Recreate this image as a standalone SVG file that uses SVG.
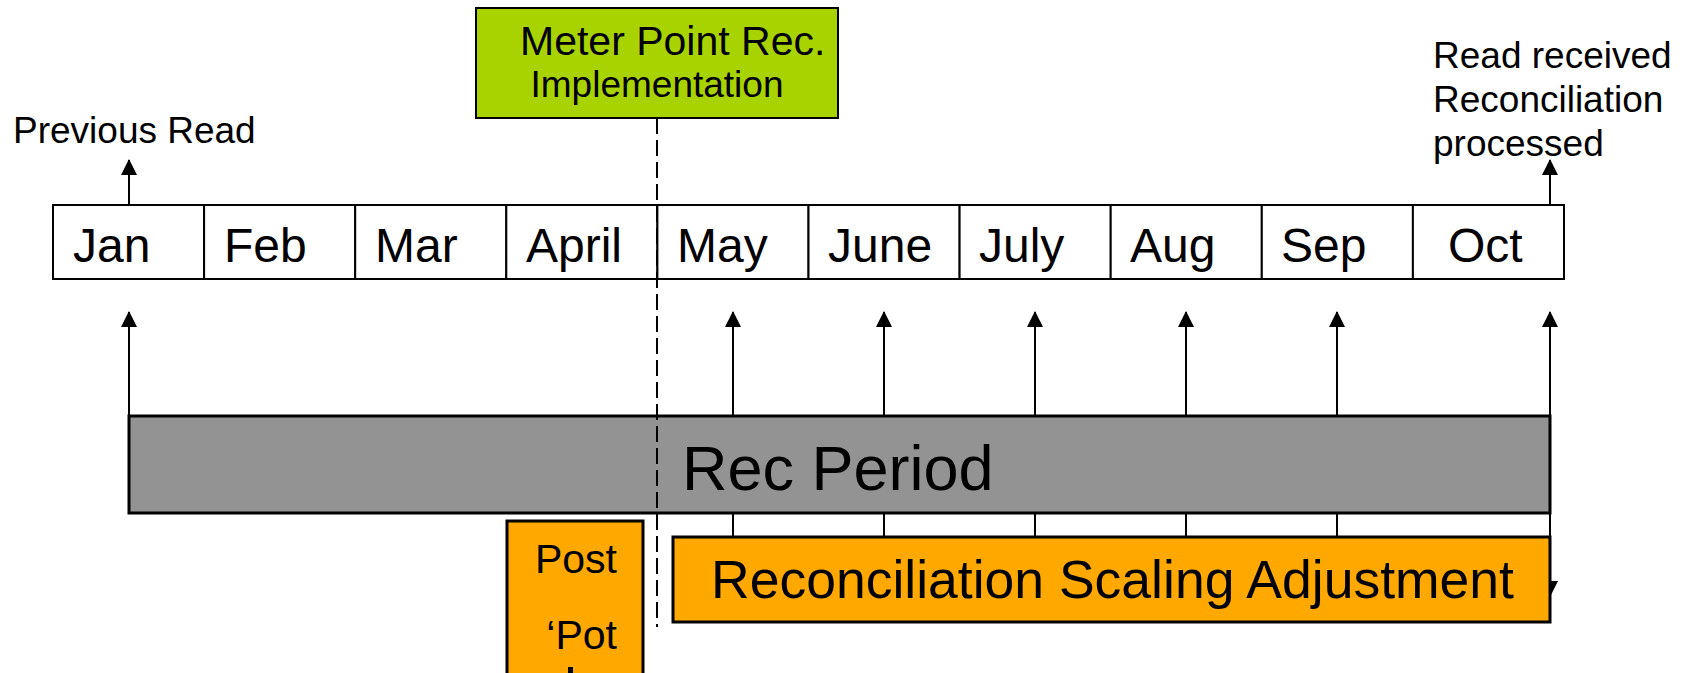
<svg xmlns="http://www.w3.org/2000/svg" width="1690" height="673" viewBox="0 0 1690 673">
  <style>
    text { font-family: "Liberation Sans", Arial, sans-serif; fill: #000; }
    .month { font-size: 48px; }
    .label { font-size: 37px; }
    .cell { fill: #fff; stroke: #000; stroke-width: 2; }
    .conn { stroke: #000; stroke-width: 2; fill: none; }
    .dash { stroke: #000; stroke-width: 2; stroke-dasharray: 16 6; fill: none; }
    .orange { fill: #FFA800; stroke: #000; stroke-width: 3; }
  </style>
  <defs>
    <marker id="arrow" markerUnits="userSpaceOnUse" markerWidth="16" markerHeight="16" viewBox="0 0 16 16" refX="15" refY="8" orient="auto">
      <path d="M0,0 L16,8 L0,16 Z" fill="#000"/>
    </marker>
  </defs>

  <rect width="1690" height="673" fill="#fff"/>

  <!-- downward arrow mostly hidden behind the scaling box -->
  <g id="hidden-arrow">
    <line class="conn" x1="1550" y1="513" x2="1550" y2="596" marker-end="url(#arrow)"/>
  </g>

  <!-- connectors -->
  <g id="connectors">
    <line class="conn" x1="129" y1="205" x2="129" y2="160" marker-end="url(#arrow)"/>
    <line class="conn" x1="1550" y1="205" x2="1550" y2="160" marker-end="url(#arrow)"/>
    <line class="conn" x1="129" y1="416" x2="129" y2="312" marker-end="url(#arrow)"/>
    <line class="conn" x1="733" y1="537" x2="733" y2="312" marker-end="url(#arrow)"/>
    <line class="conn" x1="884" y1="537" x2="884" y2="312" marker-end="url(#arrow)"/>
    <line class="conn" x1="1035" y1="537" x2="1035" y2="312" marker-end="url(#arrow)"/>
    <line class="conn" x1="1186" y1="537" x2="1186" y2="312" marker-end="url(#arrow)"/>
    <line class="conn" x1="1337" y1="537" x2="1337" y2="312" marker-end="url(#arrow)"/>
    <line class="conn" x1="1550" y1="537" x2="1550" y2="312" marker-end="url(#arrow)"/>
  </g>

  <!-- month timeline -->
  <g id="timeline">
    <rect class="cell" x="53" y="205" width="151.1" height="74"/>
    <rect class="cell" x="204.1" y="205" width="151.1" height="74"/>
    <rect class="cell" x="355.2" y="205" width="151.1" height="74"/>
    <rect class="cell" x="506.3" y="205" width="151.1" height="74"/>
    <rect class="cell" x="657.4" y="205" width="151.1" height="74"/>
    <rect class="cell" x="808.5" y="205" width="151.1" height="74"/>
    <rect class="cell" x="959.6" y="205" width="151.1" height="74"/>
    <rect class="cell" x="1110.7" y="205" width="151.1" height="74"/>
    <rect class="cell" x="1261.8" y="205" width="151.1" height="74"/>
    <rect class="cell" x="1412.9" y="205" width="151.1" height="74"/>
    <text class="month" x="73" y="262">Jan</text>
    <text class="month" x="224" y="262">Feb</text>
    <text class="month" x="375" y="262">Mar</text>
    <text class="month" x="526" y="262">April</text>
    <text class="month" x="677" y="262">May</text>
    <text class="month" x="828" y="262">June</text>
    <text class="month" x="979" y="262">July</text>
    <text class="month" x="1130" y="262">Aug</text>
    <text class="month" x="1281" y="262">Sep</text>
    <text class="month" x="1448" y="262">Oct</text>
  </g>

  <g id="previous-read">
    <text class="label" x="13" y="143">Previous Read</text>
  </g>

  <g id="read-received">
    <text class="label" x="1433" y="68">Read received</text>
    <text class="label" x="1433" y="112">Reconciliation</text>
    <text class="label" x="1433" y="156">processed</text>
  </g>

  <g id="implementation">
    <rect x="476" y="8" width="362" height="110" fill="#A9D300" stroke="#000" stroke-width="2"/>
    <text x="520" y="55" font-size="41">Meter Point Rec.</text>
    <text class="label" x="657" y="97" text-anchor="middle">Implementation</text>
  </g>

  <g id="rec-period">
    <rect x="129" y="416" width="1421" height="97" fill="#939393" stroke="#000" stroke-width="3"/>
    <text x="682" y="490" font-size="63">Rec Period</text>
  </g>

  <g id="post-pot">
    <rect class="orange" x="507" y="521" width="136" height="160"/>
    <text x="617" y="573" font-size="41" text-anchor="end">Post</text>
    <text x="617" y="649" font-size="41" text-anchor="end">‘Pot</text>
    <rect x="568" y="667" width="5" height="6" fill="#000"/>
  </g>

  <g id="scaling-adjustment">
    <rect class="orange" x="673" y="537" width="877" height="85"/>
    <text x="711" y="598" font-size="53.5">Reconciliation Scaling Adjustment</text>
  </g>

  <!-- implementation cut-over line -->
  <g id="cutover">
    <line class="dash" x1="657" y1="118" x2="657" y2="627"/>
  </g>
</svg>
